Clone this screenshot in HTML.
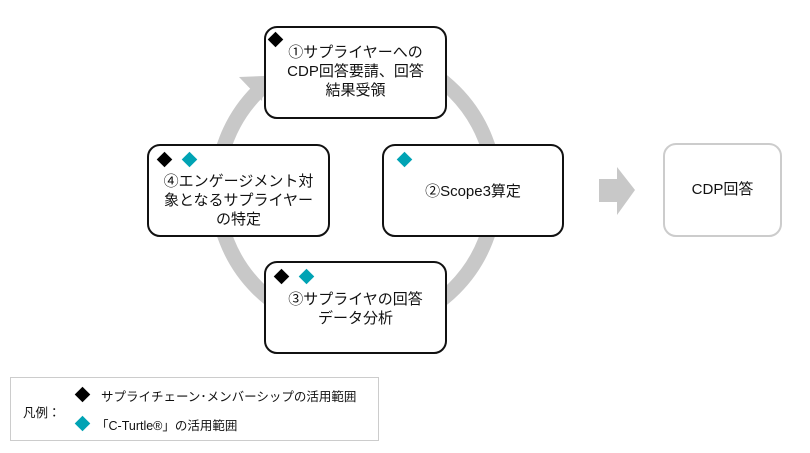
<!DOCTYPE html>
<html><head><meta charset="utf-8"><style>
body{margin:0;width:810px;height:453px;background:#fff;position:relative;overflow:hidden;font-family:"Liberation Sans","Noto Sans CJK JP",sans-serif;color:#111}
.b{position:absolute;box-sizing:border-box;border:2.5px solid #111;border-radius:13px;background:#fff;font-size:15px;line-height:19px;text-align:center}
.d{position:absolute;width:11px;height:11px;transform:rotate(45deg)}
.k{background:#000}.c{background:#00a3b4}
.t{position:absolute;left:0;right:0}
</style></head><body>
<svg width="810" height="453" style="position:absolute;left:0;top:0">
<circle cx="356" cy="190" r="139" fill="none" stroke="#c8c8c8" stroke-width="15"/>
<polygon points="264,76 239,77 262,101" fill="#c8c8c8"/>
<polygon points="599,179 617,179 617,167 635,190 617,215 617,202 599,202" fill="#c8c8c8"/>
</svg>
<div class="b" style="left:264px;top:26px;width:183px;height:93px">
<div class="d k" style="left:4px;top:6px"></div>
<div class="t" style="top:15px">①サプライヤーへの<br>CDP回答要請、回答<br>結果受領</div></div>
<div class="b" style="left:147px;top:144px;width:183px;height:93px">
<div class="d k" style="left:10px;top:8px"></div><div class="d c" style="left:35px;top:8px"></div>
<div class="t" style="top:26px">④エンゲージメント対<br>象となるサプライヤー<br>の特定</div></div>
<div class="b" style="left:382px;top:144px;width:182px;height:93px">
<div class="d c" style="left:15px;top:8px"></div>
<div class="t" style="top:36px">②Scope3算定</div></div>
<div class="b" style="left:264px;top:261px;width:183px;height:93px">
<div class="d k" style="left:10px;top:8px"></div><div class="d c" style="left:35px;top:8px"></div>
<div class="t" style="top:27px">③サプライヤの回答<br>データ分析</div></div>
<div class="b" style="left:663px;top:143px;width:119px;height:94px;border:2px solid #ccc;line-height:90px">CDP回答</div>
<div style="position:absolute;left:10px;top:377px;width:369px;height:64px;box-sizing:border-box;border:1.5px solid #ccc;font-size:12.5px">
<div style="position:absolute;left:12px;top:24px">凡例：</div>
<div class="d k" style="left:66px;top:11px"></div>
<div style="position:absolute;left:90px;top:8px">サプライチェーン･メンバーシップの活用範囲</div>
<div class="d c" style="left:66px;top:40px"></div>
<div style="position:absolute;left:85px;top:37px">「C-Turtle®」の活用範囲</div>
</div>
</body></html>
